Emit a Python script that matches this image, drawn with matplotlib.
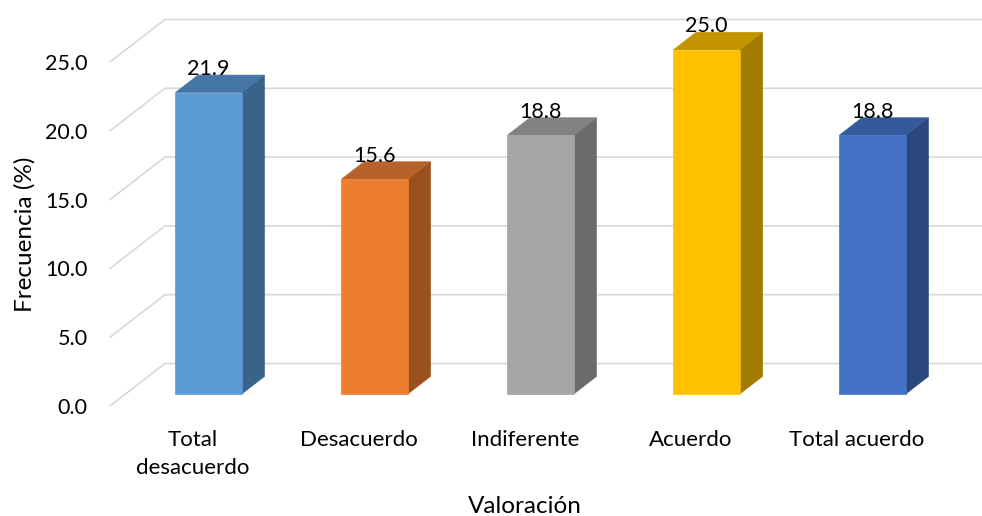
import matplotlib
matplotlib.use("Agg")
import matplotlib.pyplot as plt
from matplotlib.patches import Polygon

plt.rcParams['font.family'] = ['Lato', 'DejaVu Sans']

# Data
categories = ["Total\ndesacuerdo", "Desacuerdo", "Indiferente", "Acuerdo", "Total acuerdo"]
values = [21.9, 15.6, 18.8, 25.0, 18.8]
y_ticks = [0, 5, 10, 15, 20, 25]
y_tick_labels = ["0.0", "5.0", "10.0", "15.0", "20.0", "25.0"]

# Face colours: front, top, side
front_colors = ["#5B9BD5", "#ED7D31", "#A5A5A5", "#FFC000", "#4472C4"]
top_colors = ["#4676A6", "#B9612A", "#828282", "#C49300", "#355A9B"]
side_colors = ["#3A6388", "#9A511E", "#6B6B6B", "#A17A00", "#2B487C"]

# Perspective offsets of the floor depth (in data units)
DX = 0.331
DY = 3.09
F_DEPTH = 0.285   # bar front plane
B_DEPTH = 0.695   # bar back plane
HALF_W = 0.2
GRID_COLOR = "#D9D9D9"

fig = plt.figure(figsize=(9.82, 5.16), dpi=100)
W, H = 982, 516
ax = fig.add_axes([110 / W, 110 / H, 830 / W, 344 / H])
ax.set_xlim(-0.5, len(categories) - 0.5)
ax.set_ylim(0, 25)
ax.patch.set_visible(False)
for s in ax.spines.values():
    s.set_visible(False)


def P(x, v, d):
    return (x + d * DX, v + d * DY)


x_left = -0.5
x_right = len(categories) - 0.5

# Side wall and back wall gridlines
for t in y_ticks:
    a = P(x_left, t, 0)
    b = P(x_left, t, 1)
    c = P(x_right, t, 1)
    ax.plot([a[0], b[0], c[0]], [a[1], b[1], c[1]], color=GRID_COLOR,
            lw=1.2, clip_on=False, zorder=1, solid_joinstyle="miter")

# 3D columns
for i, v in enumerate(values):
    fr = [P(i - HALF_W, 0, F_DEPTH), P(i + HALF_W, 0, F_DEPTH),
          P(i + HALF_W, v, F_DEPTH), P(i - HALF_W, v, F_DEPTH)]
    tp = [P(i - HALF_W, v, F_DEPTH), P(i + HALF_W, v, F_DEPTH),
          P(i + HALF_W, v, B_DEPTH), P(i - HALF_W, v, B_DEPTH)]
    sd = [P(i + HALF_W, 0, F_DEPTH), P(i + HALF_W, 0, B_DEPTH),
          P(i + HALF_W, v, B_DEPTH), P(i + HALF_W, v, F_DEPTH)]
    for poly, col in ((sd, side_colors[i]), (tp, top_colors[i]), (fr, front_colors[i])):
        ax.add_patch(Polygon(poly, closed=True, facecolor=col, edgecolor=col,
                             lw=0.5, clip_on=False, zorder=3))
    lx, _ = P(i, v, F_DEPTH)
    _, ly = P(i, v, B_DEPTH)
    ax.text(lx, ly, f"{v:.1f}", ha="center", va="baseline", fontsize=15.5,
            color="#000000", zorder=5, clip_on=False)

ax.set_xticks(range(len(categories)))
ax.set_xticklabels(categories, fontsize=16, linespacing=1.5)
ax.set_yticks(y_ticks)
ax.set_yticklabels(y_tick_labels, fontsize=15.5)
ax.tick_params(axis="both", length=0, colors="#000000")
ax.tick_params(axis="y", pad=16)
ax.tick_params(axis="x", pad=17)

ax.set_xlabel("Valoración", fontsize=17.5, labelpad=13)
ax.set_ylabel("Frecuencia (%)", fontsize=17.5, labelpad=7)

fig.savefig("out.png", dpi=100)
